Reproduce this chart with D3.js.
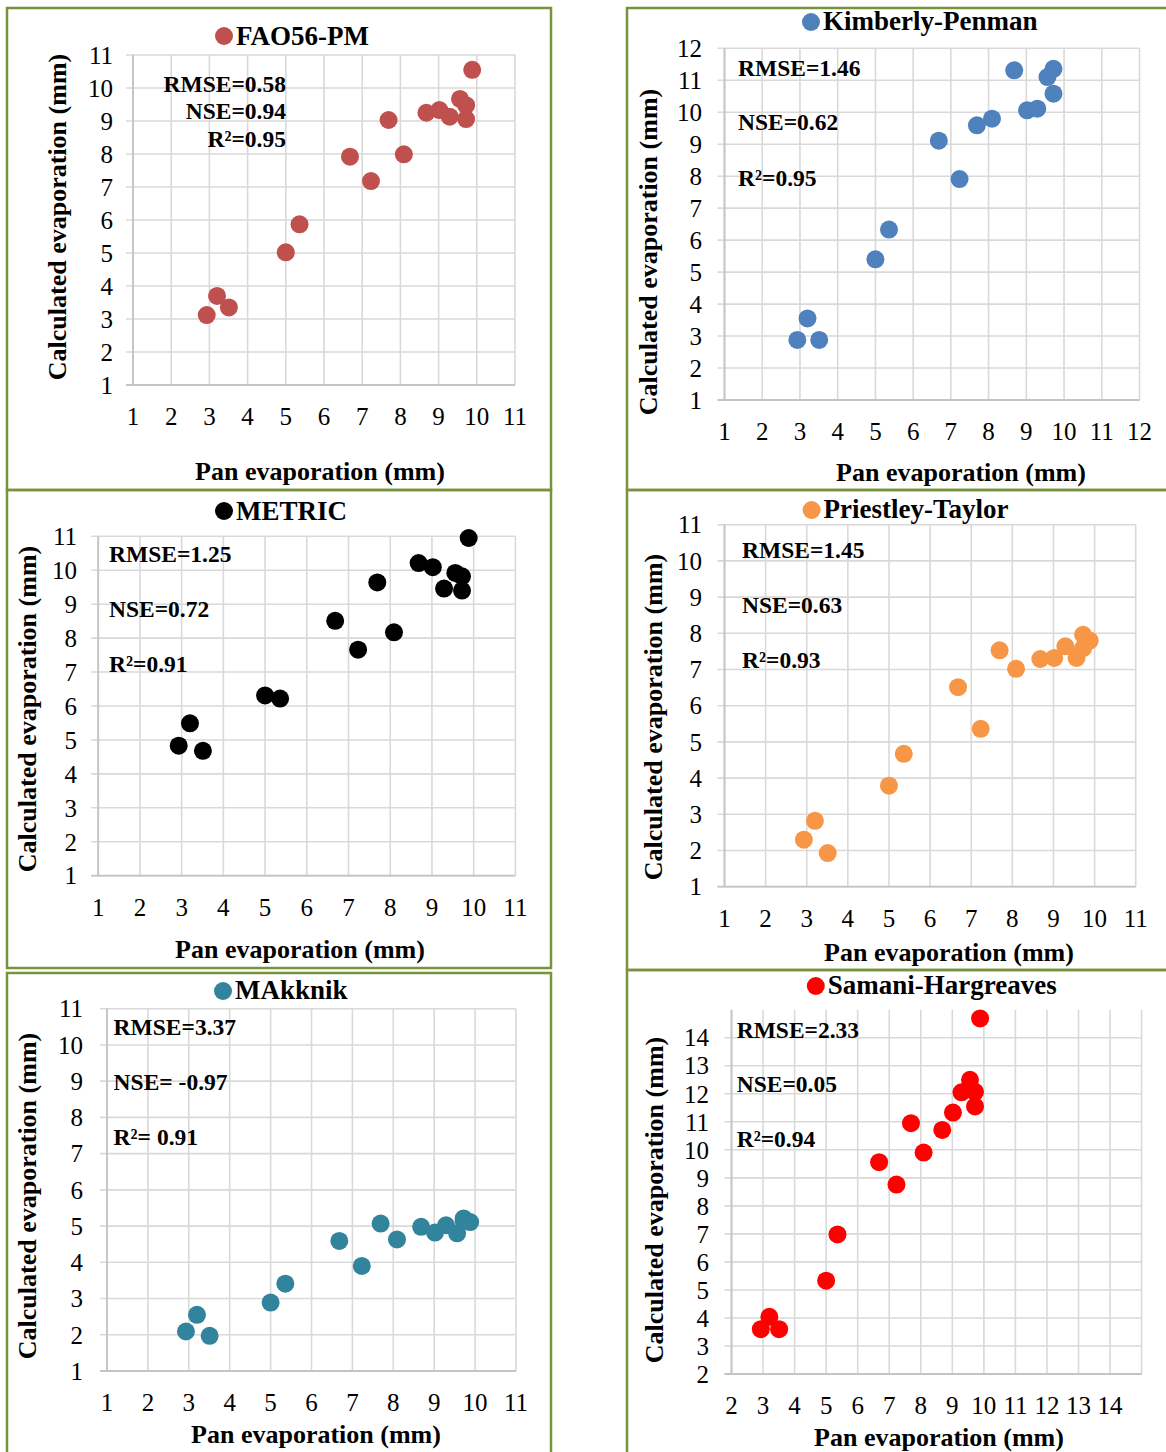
<!DOCTYPE html>
<html>
<head>
<meta charset="utf-8">
<script src="https://cdn.jsdelivr.net/npm/d3@7"></script>
<style>
  body { margin: 0; background: #fff; }
  text { font-family: "Liberation Serif", "Times New Roman", serif; }
</style>
</head>
<body>
<div id="chartHolder"></div>
<script>
// pan evaporation (mm), shared x values of every panel
const panEvap = [2.93, 3.20, 3.51, 5.00, 5.36, 6.68, 7.23, 7.69, 8.09, 8.68, 9.02, 9.29, 9.56, 9.72, 9.72, 9.88];

// calculated evaporation (mm) for each method
const fao56 = [3.12, 3.70, 3.35, 5.02, 5.87, 7.92, 7.18, 9.03, 7.99, 9.25, 9.33, 9.13, 9.67, 9.48, 9.06, 10.55];
const kimberly = [2.88, 3.55, 2.88, 5.40, 6.33, 9.11, 7.91, 9.59, 9.80, 11.31, 10.06, 10.11, 11.10, 11.36, 10.58, null];
const metric = [4.83, 5.49, 4.68, 6.31, 6.22, 8.51, 7.66, 9.64, 8.17, 10.21, 10.09, 9.46, 9.92, 9.82, 9.40, 10.95];
const priestley = [2.30, 2.82, 1.93, 3.79, 4.67, 6.51, 5.36, 7.53, 7.02, 7.29, 7.32, 7.64, 7.32, 7.96, 7.59, 7.80];
const makknik = [2.09, 2.55, 1.97, 2.89, 3.41, 4.59, 3.90, 5.07, 4.63, 4.98, 4.82, 5.02, 4.80, 5.21, 5.15, 5.11];
const samani = [3.60, 4.04, 3.60, 5.33, 6.98, 9.56, 8.76, 10.95, 9.90, 10.71, 11.33, 12.05, 12.50, 12.07, 11.55, 14.69];

const methodNames = ["FAO56-PM", "Kimberly-Penman", "METRIC", "Priestley-Taylor", "MAkknik", "Samani-Hargreaves"];
const rmseLabels = ["RMSE=0.58", "RMSE=1.46", "RMSE=1.25", "RMSE=1.45", "RMSE=3.37", "RMSE=2.33"];
const nseLabels = ["NSE=0.94", "NSE=0.62", "NSE=0.72", "NSE=0.63", "NSE= -0.97", "NSE=0.05"];
const r2Labels = ["R\u00b2=0.95", "R\u00b2=0.95", "R\u00b2=0.91", "R\u00b2=0.93", "R\u00b2= 0.91", "R\u00b2=0.94"];

const ticks1to11 = [1, 2, 3, 4, 5, 6, 7, 8, 9, 10, 11];
const ticks1to12 = [1, 2, 3, 4, 5, 6, 7, 8, 9, 10, 11, 12];
const ticks2to14 = [2, 3, 4, 5, 6, 7, 8, 9, 10, 11, 12, 13, 14];

const series = [fao56, kimberly, metric, priestley, makknik, samani];
const colors = ["#C0504D", "#4F81BD", "#000000", "#F79646", "#31849B", "#FF0000"];

// layout of each panel (pixels)
const panels = [
  {frame: [7, 8, 544, 482], plot: [133, 515, 55, 385], xd: [1, 11], yd: [1, 11], xt: ticks1to11, yt: ticks1to11,
   leg: [224, 36, 45], stats: {x: 286, anchor: "end", y: [92, 119, 147]}, ylab: 113, ytitle: [66, 217], xtitle: [320, 480]},
  {frame: [627, 8, 600, 482], plot: [724.5, 1139.5, 48.3, 400], xd: [1, 12], yd: [1, 12], xt: ticks1to12, yt: ticks1to12,
   leg: [811, 22, 30], stats: {x: 738, anchor: "start", y: [76, 130, 186]}, ylab: 702, ytitle: [657, 252], xtitle: [961, 481]},
  {frame: [7, 490, 544, 478], plot: [98.2, 515.4, 536.3, 875.7], xd: [1, 11], yd: [1, 11], xt: ticks1to11, yt: ticks1to11,
   leg: [224, 511, 520], stats: {x: 109, anchor: "start", y: [562, 617, 672]}, ylab: 77, ytitle: [36, 709], xtitle: [300, 958]},
  {frame: [627, 490, 600, 480], plot: [724.5, 1135.7, 524.7, 886.7], xd: [1, 11], yd: [1, 11], xt: ticks1to11, yt: ticks1to11,
   leg: [811.6, 510, 517.5], stats: {x: 742, anchor: "start", y: [558, 613, 668]}, ylab: 702, ytitle: [662, 717], xtitle: [949, 961]},
  {frame: [7, 973, 544, 500], plot: [107, 516, 1008.7, 1371], xd: [1, 11], yd: [1, 11], xt: ticks1to11, yt: ticks1to11,
   leg: [223, 991, 999], stats: {x: 113.6, anchor: "start", y: [1035, 1090, 1145]}, ylab: 83, ytitle: [36, 1196], xtitle: [316, 1443]},
  {frame: [627, 970, 600, 500], plot: [731.5, 1141.6, 1009.7, 1374], xd: [2, 15], yd: [2, 15], xt: ticks2to14, yt: ticks2to14,
   leg: [815.8, 986, 994], stats: {x: 736.7, anchor: "start", y: [1038, 1092, 1147]}, ylab: 709, ytitle: [663, 1200], xtitle: [939, 1446]}
];

const width = 1166;
const height = 1452;
const svg = d3.select("#chartHolder")
  .append("svg")
  .attr("width", width)
  .attr("height", height);

panels.forEach((p, i) => {
  const g = svg.append("g");
  const [x0, x1, y0, y1] = p.plot;
  const x = d3.scaleLinear().domain(p.xd).range([x0, x1]);
  const y = d3.scaleLinear().domain(p.yd).range([y1, y0]);

  // frame
  g.append("rect")
    .attr("x", p.frame[0]).attr("y", p.frame[1])
    .attr("width", p.frame[2]).attr("height", p.frame[3])
    .attr("fill", "none").attr("stroke", "#77933C").attr("stroke-width", 2.5);

  // grid lines (vertical lines run to the top of the domain)
  const xGrid = d3.range(p.xd[0], p.xd[1] + 1);
  g.selectAll(".vgrid").data(xGrid).enter().append("line")
    .attr("x1", d => x(d)).attr("x2", d => x(d))
    .attr("y1", y(p.yd[0])).attr("y2", y(p.yd[1]))
    .attr("stroke", "#d9d9d9").attr("stroke-width", 1.6);
  g.selectAll(".hgrid").data(p.yt).enter().append("line")
    .attr("x1", x(p.xd[0]) - 7).attr("x2", x(p.xd[1]))
    .attr("y1", d => y(d)).attr("y2", d => y(d))
    .attr("stroke", "#d9d9d9").attr("stroke-width", 1.6);
  // axis lines
  g.append("line")
    .attr("x1", x(p.xd[0])).attr("x2", x(p.xd[0]))
    .attr("y1", y(p.yd[0])).attr("y2", y(p.yd[1]))
    .attr("stroke", "#c4c4c4").attr("stroke-width", 1.8);
  g.append("line")
    .attr("x1", x(p.xd[0]) - 7).attr("x2", x(p.xd[1]))
    .attr("y1", y(p.yd[0])).attr("y2", y(p.yd[0]))
    .attr("stroke", "#c4c4c4").attr("stroke-width", 1.8);

  // tick labels
  g.selectAll(".ylab").data(p.yt).enter().append("text")
    .attr("x", p.ylab).attr("y", d => y(d)).attr("dy", "0.35em")
    .attr("text-anchor", "end").style("font-size", "25px").text(d => d);
  g.selectAll(".xlab").data(p.xt).enter().append("text")
    .attr("x", d => x(d)).attr("y", y(p.yd[0]) + 40)
    .attr("text-anchor", "middle").style("font-size", "25px").text(d => d);

  // axis titles
  g.append("text")
    .attr("transform", `translate(${p.ytitle[0]},${p.ytitle[1]}) rotate(-90)`)
    .attr("text-anchor", "middle").style("font-size", "26px").style("font-weight", "bold")
    .text("Calculated evaporation (mm)");
  g.append("text")
    .attr("x", p.xtitle[0]).attr("y", p.xtitle[1])
    .attr("text-anchor", "middle").style("font-size", "26px").style("font-weight", "bold")
    .text("Pan evaporation (mm)");

  // legend
  g.append("circle").attr("cx", p.leg[0]).attr("cy", p.leg[1]).attr("r", 9).attr("fill", colors[i]);
  g.append("text").attr("x", p.leg[0] + 12).attr("y", p.leg[2])
    .style("font-size", "27px").style("font-weight", "bold").text(methodNames[i]);

  // statistics
  [rmseLabels[i], nseLabels[i], r2Labels[i]].forEach((t, k) => {
    g.append("text").attr("x", p.stats.x).attr("y", p.stats.y[k])
      .attr("text-anchor", p.stats.anchor)
      .style("font-size", "23.5px").style("font-weight", "bold").text(t);
  });

  // points
  const pts = panEvap.map((v, k) => ({x: v, y: series[i][k]})).filter(d => d.y !== null);
  g.selectAll(".dot").data(pts).enter().append("circle")
    .attr("class", "dot")
    .attr("cx", d => x(d.x)).attr("cy", d => y(d.y))
    .attr("r", 9)
    .attr("fill", colors[i]);
});
</script>
</body>
</html>
